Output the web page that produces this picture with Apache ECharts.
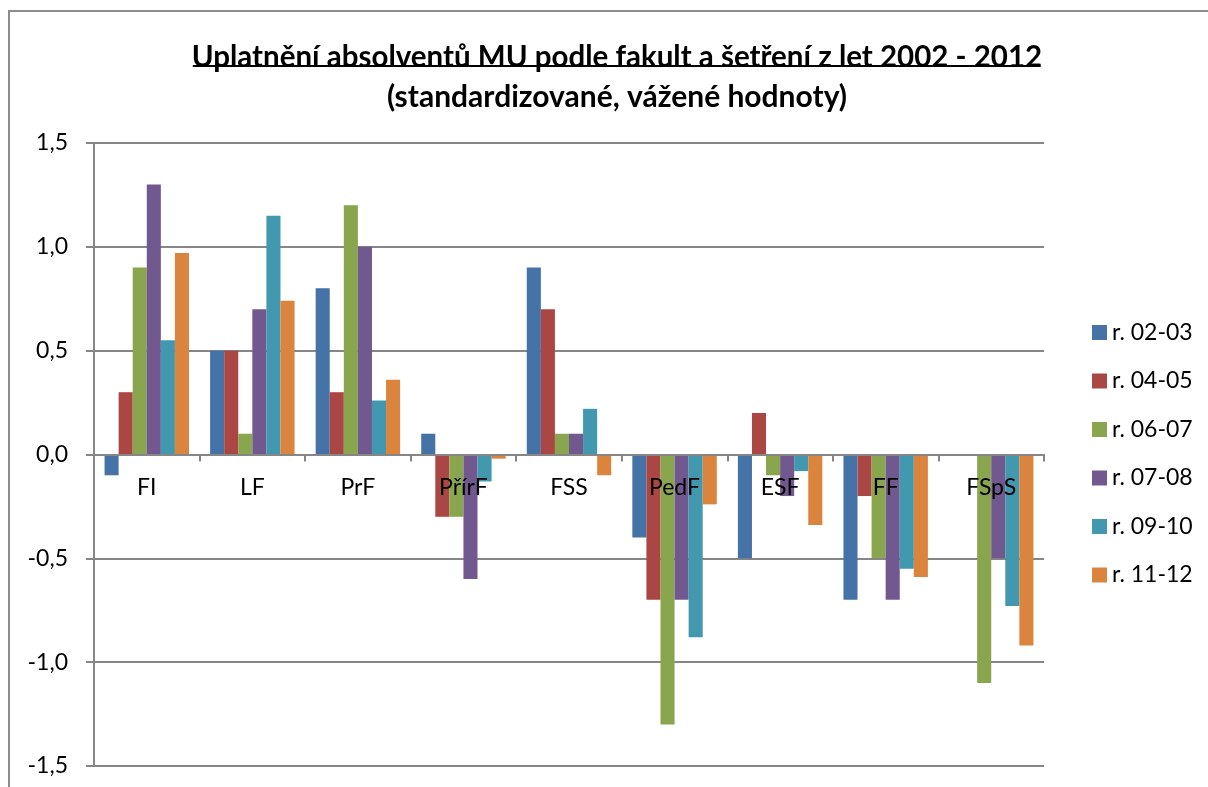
<!DOCTYPE html>
<html>
<head>
<meta charset="utf-8">
<script src="https://cdn.jsdelivr.net/npm/echarts@6/dist/echarts.min.js"></script>
<style>
  html, body { margin: 0; padding: 0; background: #fff; }
  #chart { width: 1208px; height: 787px; }
</style>
</head>
<body>
<div id="chart"></div>
<script>
var faculties = ['FI', 'LF', 'PrF', 'PřírF', 'FSS', 'PedF', 'ESF', 'FF', 'FSpS'];
var seriesNames = ['r. 02-03', 'r. 04-05', 'r. 06-07', 'r. 07-08', 'r. 09-10', 'r. 11-12'];
var r0203 = [-0.1, 0.5, 0.8, 0.1, 0.9, -0.4, -0.5, -0.7, null];
var r0405 = [0.3, 0.5, 0.3, -0.3, 0.7, -0.7, 0.2, -0.2, null];
var r0607 = [0.9, 0.1, 1.2, -0.3, 0.1, -1.3, -0.1, -0.5, -1.1];
var r0708 = [1.3, 0.7, 1.0, -0.6, 0.1, -0.7, -0.2, -0.7, -0.5];
var r0910 = [0.55, 1.15, 0.26, -0.13, 0.22, -0.88, -0.08, -0.55, -0.73];
var r1112 = [0.97, 0.74, 0.36, -0.02, -0.1, -0.24, -0.34, -0.59, -0.92];
var yMin = -1.5, yMax = 1.5, yStep = 0.5;

var colors = ['#4572A7', '#AA4643', '#89A54E', '#71588F', '#4198AF', '#DB843D'];
var values = [r0203, r0405, r0607, r0708, r0910, r1112];
var font = 'Lato, "Noto Sans", sans-serif';

var titleText = 'Uplatnění absolventů MU podle fakult a šetření z let 2002 - 2012';
var titleSize = 29.5;
var ctx = document.createElement('canvas').getContext('2d');
ctx.font = 'bold ' + titleSize + 'px ' + font;
var titleW = ctx.measureText(titleText).width;
var titleCx = 612;

// plot box; the category axis sits on the zero line
var gridTop = 143, gridBottom = 21, chartH = 787;
var plotH = chartH - gridTop - gridBottom;
var zeroOffset = -plotH * (0 - yMin) / (yMax - yMin);

var chart = echarts.init(document.getElementById('chart'));
chart.setOption({
    backgroundColor: '#fff',
    color: colors,
    animation: false,
    title: [
        {
            text: titleText,
            left: titleCx, top: 37, textAlign: 'center',
            textStyle: { fontFamily: font, fontSize: titleSize, fontWeight: 'bold', color: '#000' }
        },
        {
            text: '(standardizované, vážené hodnoty)',
            left: titleCx, top: 77, textAlign: 'center',
            textStyle: { fontFamily: font, fontSize: 30, fontWeight: 'bold', color: '#000' }
        }
    ],
    graphic: [
        {
            type: 'rect', silent: true,
            shape: { x: 9, y: 11, width: 1400, height: 1000 },
            style: { fill: 'none', stroke: '#8c8c8c', lineWidth: 2 }
        },
        {
            type: 'line', silent: true,
            shape: { x1: titleCx - titleW / 2 + 6, y1: 66, x2: titleCx + titleW / 2, y2: 66 },
            style: { stroke: '#000', lineWidth: 2 }
        }
    ],
    legend: {
        orient: 'vertical',
        left: 1087, top: 316,
        itemWidth: 15, itemHeight: 15, itemGap: 25.5,
        icon: 'rect',
        textStyle: { fontFamily: font, fontSize: 23, color: '#000' },
        data: seriesNames
    },
    grid: { left: 94, right: 164, top: gridTop, bottom: gridBottom, containLabel: false, outerBoundsMode: 'none' },
    xAxis: {
        type: 'category',
        data: faculties,
        position: 'bottom',
        offset: zeroOffset,
        z: 5,
        axisLine: { onZero: false, lineStyle: { color: '#868686', width: 2 } },
        axisTick: { show: true, length: 7, lineStyle: { color: '#868686', width: 2 } },
        axisLabel: { fontFamily: font, fontSize: 23, color: '#000', margin: 22, interval: 0 },
        splitLine: { show: false }
    },
    yAxis: {
        type: 'value',
        min: yMin, max: yMax, interval: yStep,
        axisLine: { show: true, lineStyle: { color: '#868686', width: 2 } },
        axisTick: { show: true, length: 8, lineStyle: { color: '#868686', width: 2 } },
        axisLabel: {
            fontFamily: font, fontSize: 23, color: '#000', margin: 26,
            formatter: function (v) { return v.toFixed(1).replace('.', ','); }
        },
        splitLine: { lineStyle: { color: '#868686', width: 2 } }
    },
    series: seriesNames.map(function (name, i) {
        return {
            name: name,
            type: 'bar',
            data: values[i],
            barGap: '0%',
            barCategoryGap: '20%',
            itemStyle: { color: colors[i] }
        };
    })
});
</script>
</body>
</html>
